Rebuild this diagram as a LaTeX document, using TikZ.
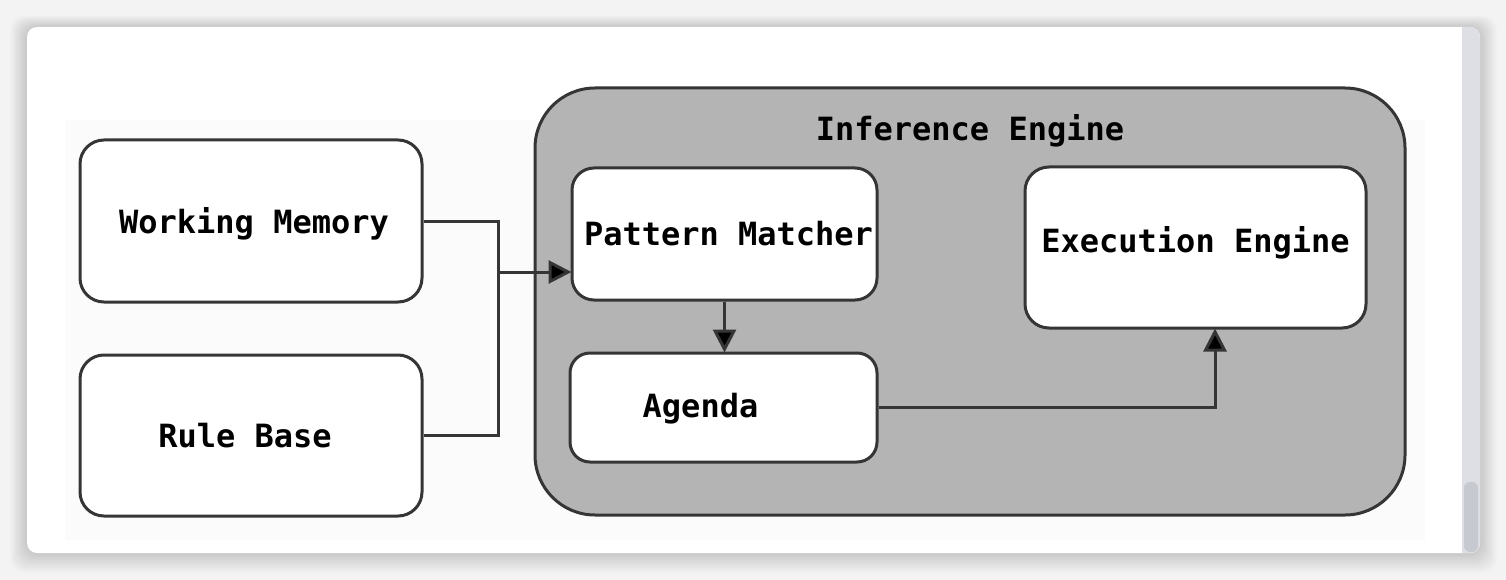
\documentclass[tikz,border=0pt]{standalone}
\usepackage{fontspec}
\setmonofont{DejaVu Sans Mono}
\usetikzlibrary{arrows.meta}
\definecolor{pagebg}{HTML}{F3F3F3}
\definecolor{imgbg}{HTML}{FBFBFB}
\definecolor{track}{HTML}{DEDFE5}
\definecolor{thumb}{HTML}{C7C9D1}
\definecolor{linec}{HTML}{353535}
\definecolor{iefill}{HTML}{B4B4B4}
\tikzset{
  txt/.style={font=\ttfamily\bfseries\fontsize{32}{37}\selectfont, text=black, inner sep=0pt},
  box/.style={draw=linec, line width=3pt, fill=white, rounded corners=24pt, inner sep=0pt},
  conn/.style={draw=linec, line width=3pt},
  arr/.style={conn, -{Triangle[length=23pt,width=23pt,fill=black]}, shorten >=-1pt},
}
\begin{document}
\begin{tikzpicture}[x=1pt,y=-1pt]
\useasboundingbox (0,0) rectangle (1506,580);
\fill[pagebg] (0,0) rectangle (1506,580);
% card shadow
\foreach \i in {1,...,14}{
  \fill[black, opacity=0.011, rounded corners=14pt]
    (27-\i*1.2,27-\i*0.8) rectangle (1480+\i*1.2,553+\i*1.4);
}
% card
\fill[white, rounded corners=10pt] (27,27) rectangle (1480,553);
% scrollbar
\begin{scope}
  \clip[rounded corners=10pt] (27,27) rectangle (1480,553);
  \fill[track] (1462,27) rectangle (1480,553);
\end{scope}
\fill[thumb, rounded corners=6pt] (1464,482) rectangle (1478,552);
% image area
\fill[imgbg] (65,120) rectangle (1425,540);

% boxes
\node[box, minimum width=342pt, minimum height=162pt,
  label={[txt, xshift=3pt, yshift=-3pt]center:Working Memory}] (wm) at (251,221) {};
\node[box, minimum width=342pt, minimum height=161pt,
  label={[txt, xshift=-6pt]center:Rule Base}] (rb) at (251,435.5) {};
\node[box, fill=iefill, rounded corners=60pt, minimum width=870pt, minimum height=427pt,
  label={[txt, yshift=-61pt]north:Inference Engine}] (ie) at (970,301.5) {};
\node[box, rounded corners=22pt, minimum width=305pt, minimum height=132pt,
  label={[txt, xshift=4pt]center:Pattern Matcher}] (pm) at (724.5,234) {};
\node[box, rounded corners=20pt, minimum width=307pt, minimum height=109pt,
  label={[txt, xshift=-23pt, yshift=-1pt]center:Agenda}] (ag) at (723.5,407.5) {};
\node[box, rounded corners=24pt, minimum width=341pt, minimum height=161pt,
  label={[txt, yshift=5pt]center:Execution Engine}] (ee) at (1195.5,247.5) {};

% connectors
\coordinate (j) at (498,272);
\draw[conn] (wm.east) -| (j);
\draw[conn] (rb.east) -| (j);
\draw[arr] (j) -- (j -| pm.west);
\draw[arr] (pm.south) -- (pm.south |- ag.north);
\draw[arr] (ag.east) -| ([xshift=19.5pt]ee.south);
\end{tikzpicture}
\end{document}
